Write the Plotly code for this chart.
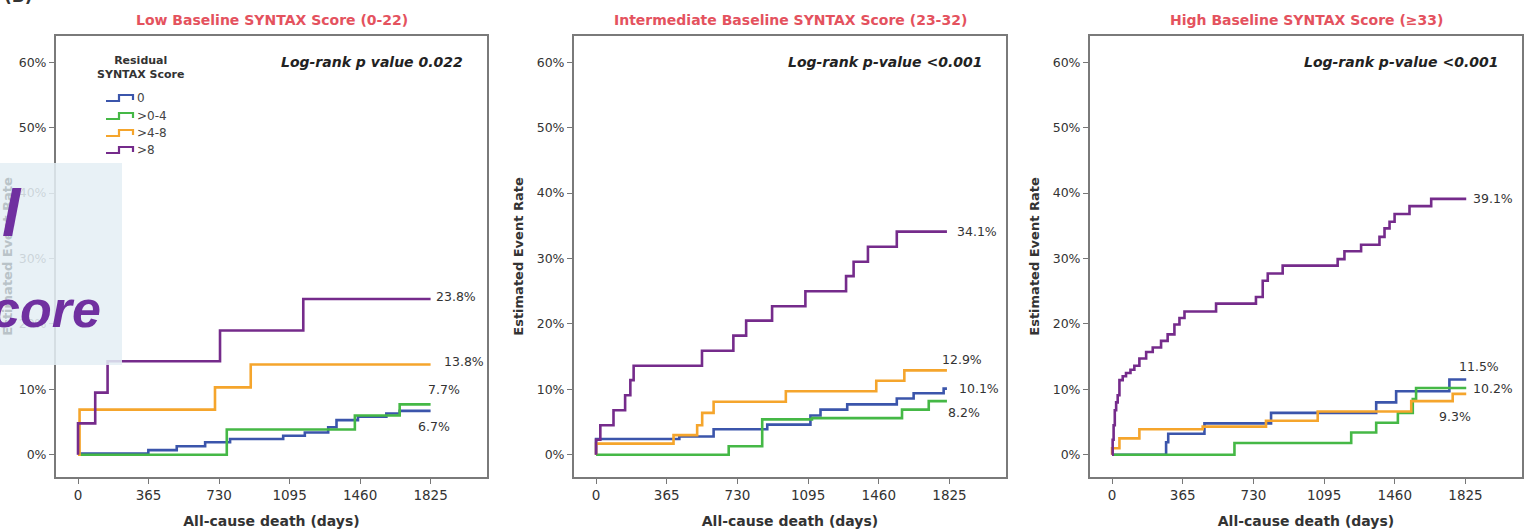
import plotly.graph_objects as go

W, H = 1530, 530

# ---------------------------------------------------------------- data
day_ticks = [0, 365, 730, 1095, 1460, 1825]
pct_ticks = [0, 10, 20, 30, 40, 50, 60]
pct_tick_labels = ["0%", "10%", "20%", "30%", "40%", "50%", "60%"]

group_names = ["0", ">0-4", ">4-8", ">8"]
group_colors = ["#3b55ab", "#45b846", "#f5a52c", "#752b8b"]

panel_titles = [
    "Low Baseline SYNTAX Score (0-22)",
    "Intermediate Baseline SYNTAX Score (23-32)",
    "High Baseline SYNTAX Score (\u226533)",
]
pvalue_texts = [
    "Log-rank p value 0.022",
    "Log-rank p-value <0.001",
    "Log-rank p-value <0.001",
]

# Low baseline SYNTAX score: Kaplan-Meier event rates (%) by residual SYNTAX score
low_t_0 = [0, 5, 364, 511, 658, 787, 1062, 1174, 1295, 1338, 1449, 1596, 1665, 1825]
low_v_0 = [0, 0.2, 0.7, 1.3, 1.9, 2.4, 2.9, 3.4, 4.2, 5.3, 5.8, 6.3, 6.7, 6.7]
low_t_1 = [0, 770, 1433, 1665, 1825]
low_v_1 = [0, 3.85, 6.0, 7.7, 7.7]
low_t_2 = [0, 8, 709, 894, 1825]
low_v_2 = [0, 6.9, 10.3, 13.8, 13.8]
low_t_3 = [0, 0, 89, 153, 735, 1166, 1825]
low_v_3 = [0, 4.8, 9.5, 14.3, 19.0, 23.8, 23.8]

# Intermediate baseline SYNTAX score
mid_t_0 = [0, 0, 430, 607, 884, 1107, 1159, 1297, 1553, 1640, 1795, 1812]
mid_v_0 = [0, 2.4, 2.8, 3.9, 4.6, 6.0, 6.9, 7.7, 8.6, 9.4, 10.1, 10.1]
mid_t_1 = [0, 685, 858, 1115, 1580, 1718, 1812]
mid_v_1 = [0, 1.3, 5.4, 5.6, 6.9, 8.2, 8.2]
mid_t_2 = [0, 0, 400, 522, 548, 607, 980, 1447, 1592, 1812]
mid_v_2 = [0, 1.7, 3.0, 4.5, 6.4, 8.1, 9.7, 11.3, 12.9, 12.9]
mid_t_3 = [0, 0, 22, 90, 150, 177, 194, 547, 709, 775, 909, 1081, 1291, 1330, 1404, 1553, 1812]
mid_v_3 = [0, 2.3, 4.5, 6.8, 9.1, 11.4, 13.6, 15.9, 18.2, 20.5, 22.7, 25.0, 27.3, 29.5, 31.8, 34.1, 34.1]

# High baseline SYNTAX score
high_t_0 = [0, 279, 290, 477, 821, 1364, 1467, 1742, 1829]
high_v_0 = [0, 1.9, 3.2, 4.8, 6.4, 8.0, 9.7, 11.5, 11.5]
high_t_1 = [0, 632, 1235, 1364, 1476, 1553, 1570, 1829]
high_v_1 = [0, 1.8, 3.4, 4.9, 6.4, 8.5, 10.2, 10.2]
high_t_2 = [0, 0, 38, 141, 468, 795, 1062, 1545, 1759, 1829]
high_v_2 = [0, 1.0, 2.5, 3.9, 4.3, 5.2, 6.6, 8.2, 9.3, 9.3]
high_t_3 = [0, 3, 8, 14, 21, 29, 38, 55, 72, 95, 115, 141, 176, 210, 253, 287, 322, 348,
            374, 537, 743, 778, 804, 881, 1165, 1200, 1286, 1381, 1407, 1433, 1459, 1536,
            1648, 1829]
high_v_3 = [0, 2.3, 4.5, 6.8, 8.0, 9.1, 11.4, 12.0, 12.5, 13.0, 13.6, 14.7, 15.7, 16.4,
            17.4, 18.4, 19.9, 20.9, 21.9, 23.1, 24.1, 26.6, 27.7, 28.9, 29.9, 31.1, 32.1,
            33.3, 34.6, 35.6, 36.8, 38.0, 39.1, 39.1]

panels = [
    [(low_t_0, low_v_0), (low_t_1, low_v_1), (low_t_2, low_v_2), (low_t_3, low_v_3)],
    [(mid_t_0, mid_v_0), (mid_t_1, mid_v_1), (mid_t_2, mid_v_2), (mid_t_3, mid_v_3)],
    [(high_t_0, high_v_0), (high_t_1, high_v_1), (high_t_2, high_v_2), (high_t_3, high_v_3)],
]

# ---------------------------------------------------------------- layout helpers
def px(x):
    return x / W


def py(y):
    return 1 - y / H


FONT = "DejaVu Sans, Verdana, sans-serif"
TEXT = "#333333"

x_domains = [(56, 487), (574, 1006), (1090, 1522)]
plot_top, plot_bottom = 36, 477
x_range = [-114, 2117]
y_range = [-3.4, 64.0]

# end-of-curve label placement per panel and group: (xanchor, xshift, yshift)
end_label_pos = [
    [("center", 3, -16), ("center", 13, 15), ("left", 11, 3), ("left", 3, 3)],
    [("left", 10, 0), ("center", 17, -11), ("center", 15, 11), ("left", 8, 0)],
    [("center", 13, 13), ("left", 5, 0), ("center", -11, -23), ("left", 5, 0)],
]

fig = go.Figure()
annotations = []
shapes = []

for p, curves in enumerate(panels):
    sfx = "" if p == 0 else str(p + 1)
    xref, yref = "x" + sfx, "y" + sfx
    for g, (t, v) in enumerate(curves):
        fig.add_trace(go.Scatter(
            x=t, y=v, mode="lines", line_shape="hv",
            line=dict(color=group_colors[g], width=2.6),
            name=group_names[g], showlegend=False,
            xaxis=xref, yaxis=yref, hoverinfo="skip",
        ))
        anchor, xs, ys = end_label_pos[p][g]
        annotations.append(dict(
            x=t[-1], y=v[-1], xref=xref, yref=yref, showarrow=False,
            text=f"{v[-1]:.1f}%", xanchor=anchor, yanchor="middle",
            xshift=xs, yshift=ys, font=dict(family=FONT, size=12.5, color=TEXT),
        ))

    x0, x1 = x_domains[p]
    fig.layout["xaxis" + sfx] = dict(
        domain=[px(x0), px(x1)], range=x_range, anchor=yref,
        tickmode="array", tickvals=day_ticks, ticks="outside", ticklen=5, tickwidth=1.2,
        tickcolor="#777777", showgrid=False, zeroline=False,
        showline=True, mirror=True, linecolor="#7a7a7a", linewidth=2,
        tickfont=dict(family=FONT, size=13.5, color=TEXT),
        title=dict(text="<b>All-cause death (days)</b>", standoff=14,
                   font=dict(family=FONT, size=14, color=TEXT)),
    )
    fig.layout["yaxis" + sfx] = dict(
        domain=[py(plot_bottom), py(plot_top)], range=y_range, anchor=xref,
        tickmode="array", tickvals=pct_ticks, ticktext=pct_tick_labels,
        ticks="outside", ticklen=5,
        tickwidth=1.2, tickcolor="#777777", showgrid=False, zeroline=False,
        showline=True, mirror=True, linecolor="#7a7a7a", linewidth=2,
        tickfont=dict(family=FONT, size=12.5, color=TEXT),
        title=dict(text="<b>Estimated Event Rate</b>", standoff=10,
                   font=dict(family=FONT, size=13,
                             color="#b9c3c8" if p == 0 else TEXT)),
    )

    # panel heading
    annotations.append(dict(
        x=px((x0 + x1) / 2), y=py(20), xref="paper", yref="paper", showarrow=False,
        text=f"<b>{panel_titles[p]}</b>", xanchor="center", yanchor="middle",
        font=dict(family=FONT, size=14, color="#e4525e"),
    ))
    # log-rank test result
    annotations.append(dict(
        x=px(x1 - 22), y=py(62), xref="paper", yref="paper", showarrow=False,
        text=f"<b><i>{pvalue_texts[p]}</i></b>", xanchor="right", yanchor="middle",
        font=dict(family=FONT, size=14, color="#222222"),
    ))

# ---------------------------------------------------------------- legend (first panel)
annotations.append(dict(
    x=px(140), y=py(68), xref="paper", yref="paper", showarrow=False,
    text="<b>Residual<br>SYNTAX Score</b>", xanchor="center", yanchor="middle",
    align="center", font=dict(family=FONT, size=11, color=TEXT),
))
legend_rows = [98, 116, 133, 150]
for g, yy in enumerate(legend_rows):
    path = (f"M {px(106)},{py(yy + 3)} L {px(119)},{py(yy + 3)} L {px(119)},{py(yy - 3)} "
            f"L {px(133)},{py(yy - 3)} L {px(133)},{py(yy + 2)}")
    shapes.append(dict(type="path", path=path, xref="paper", yref="paper",
                       line=dict(color=group_colors[g], width=2.2)))
    annotations.append(dict(
        x=px(135), y=py(yy), xref="paper", yref="paper", showarrow=False,
        text=group_names[g], xanchor="left", yanchor="middle",
        font=dict(family=FONT, size=12, color="#444444"),
    ))

# ---------------------------------------------------------------- slide overlay
shapes.append(dict(type="rect", xref="paper", yref="paper", layer="above",
                   x0=px(0), x1=px(122), y0=py(365), y1=py(163),
                   fillcolor="rgba(228,239,244,0.86)", line=dict(width=0)))
OVER_FONT = "Liberation Sans, Arial, sans-serif"
annotations.append(dict(
    x=px(24), y=py(252), xref="paper", yref="paper", showarrow=False,
    text="<b><i>l</i></b>", xanchor="right", yanchor="bottom",
    font=dict(family=OVER_FONT, size=66, color="#7030a0"),
))
annotations.append(dict(
    x=px(103), y=py(340), xref="paper", yref="paper", showarrow=False,
    text="<b><i>core</i></b>", xanchor="right", yanchor="bottom",
    font=dict(family=OVER_FONT, size=52, color="#7030a0"),
))
annotations.append(dict(
    x=px(2), y=py(8), xref="paper", yref="paper", showarrow=False,
    text="<b>(B)</b>", xanchor="left", yanchor="bottom",
    font=dict(family=FONT, size=17, color=TEXT),
))

fig.update_layout(
    width=W, height=H,
    margin=dict(l=0, r=0, t=0, b=0),
    paper_bgcolor="white", plot_bgcolor="white",
    showlegend=False,
    annotations=annotations, shapes=shapes,
)

fig.write_html("out.html")
